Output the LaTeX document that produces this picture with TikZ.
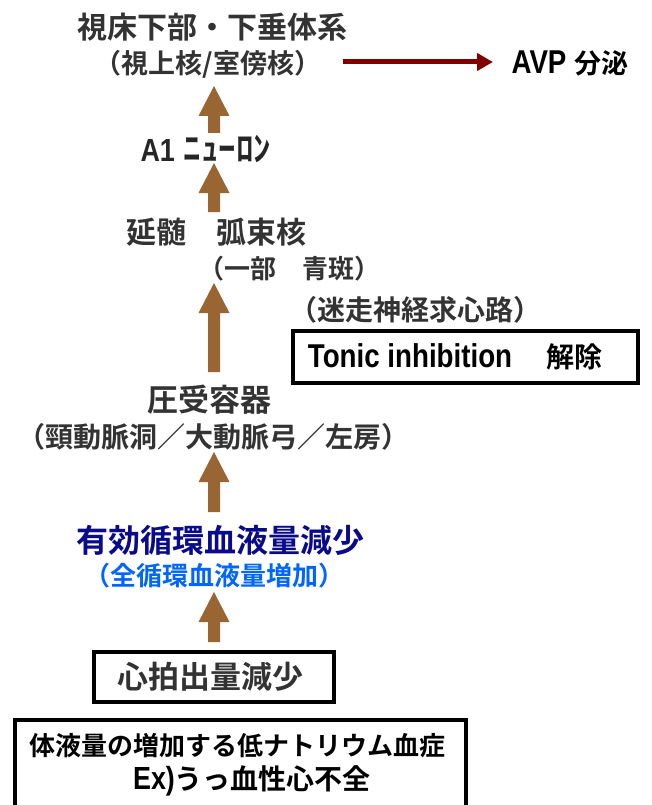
\documentclass[tikz,border=0pt]{standalone}
\usepackage{fontspec}
\setmainfont{Noto Sans CJK JP}[BoldFont={* Bold}]
\newfontfamily\lat{Liberation Sans}[FakeStretch=0.84]
\usetikzlibrary{calc,arrows.meta}
\definecolor{txtgray}{HTML}{333333}
\definecolor{arrowbrown}{HTML}{996633}
\definecolor{darkred}{HTML}{800000}
\definecolor{navyblue}{HTML}{0A0A8C}
\definecolor{lightblue}{HTML}{0066FF}
\newcommand\brarrow[2]{\fill[arrowbrown] let \p1=(#1), \p2=(#2) in
  (\x1-6pt,\y1) -- (\x1-6pt,\y2-30pt) -- (\x1-15.5pt,\y2-30pt) -- (\x1,\y2)
  -- (\x1+15.5pt,\y2-30pt) -- (\x1+6pt,\y2-30pt) -- (\x1+6pt,\y1) -- cycle;}
\newcommand\fs[1]{\fontsize{#1}{#1}\selectfont}
\begin{document}
\begin{tikzpicture}[x=1pt,y=-1pt,
  lbl/.style={inner sep=0pt,anchor=center,font=\bfseries,text=txtgray},
  frame/.style={draw=black,line width=4pt},
  redarr/.style={draw=darkred,line width=5pt,-{Triangle[length=16pt,width=17pt]}}]
\useasboundingbox (0,0) rectangle (651,805);
\fill[white] (0,0) rectangle (651,805);

% texts
\node[lbl] (hypo) at (212,27) {\fs{30}視床下部・下垂体系};
\node[lbl] (nucl) at (208,64) {\fs{27}（視上核/室傍核）};
\node[lbl,text=black] (avp) at (570,63) {{\lat\fs{33}AVP}\hspace{8pt}{\fs{27}分泌}};
\node[lbl,text=black!85] (a1) at (206,149) {{\lat\fs{32}A1}\hspace{9pt}{\fs{35}ﾆｭｰﾛﾝ}};
\node[lbl] (nts) at (216,232) {\fs{30}延髄　弧束核};
\node[lbl] (lc) at (289,269) {\fs{26}（一部　青斑）};
\node[lbl] (vag) at (415,310) {\fs{28}（迷走神経求心路）};
\node[lbl] (baro) at (209,400) {\fs{31}圧受容器};
\node[lbl] (baro2) at (213,437) {\fs{28}（頸動脈洞／大動脈弓／左房）};
\node[lbl,text=navyblue] (ecv) at (220,540) {\fs{32}有効循環血液量減少};
\node[lbl,text=lightblue] (tbv) at (214,576) {\fs{26}（全循環血液量増加）};

% boxes
\node[lbl,text=black] (tonic) at (455,357) {{\lat\fs{33}Tonic inhibition}\hspace{34pt}{\fs{28}解除}};
\draw[frame] (293,331) rectangle (638,383);
\node[lbl] (co) at (210,677) {\fs{31}心拍出量減少};
\draw[frame] (94,652) rectangle (334,702);
\node[lbl,text=black] (hypona) at (237,746) {\fs{26}体液量の増加する低ナトリウム血症};
\node[lbl,text=black] (chf) at (252,781) {{\lat\fs{32}Ex)}{\fs{28}うっ血性心不全}};
\draw[frame] (15,830) -- (15,720) -- (466,720) -- (466,830);

% arrows
\coordinate (r1) at (343,62);
\coordinate (r2) at (493,62);
\draw[redarr] (r1) -- (r2);

\coordinate (a1b) at (214,133); \coordinate (a1t) at (214,86);
\coordinate (a2b) at (214,212); \coordinate (a2t) at (214,163);
\coordinate (a3b) at (214,372); \coordinate (a3t) at (214,283);
\coordinate (a4b) at (214,512); \coordinate (a4t) at (214,452);
\coordinate (a5b) at (214,642); \coordinate (a5t) at (214,592);
\brarrow{a1b}{a1t}
\brarrow{a2b}{a2t}
\brarrow{a3b}{a3t}
\brarrow{a4b}{a4t}
\brarrow{a5b}{a5t}
\end{tikzpicture}
\end{document}
